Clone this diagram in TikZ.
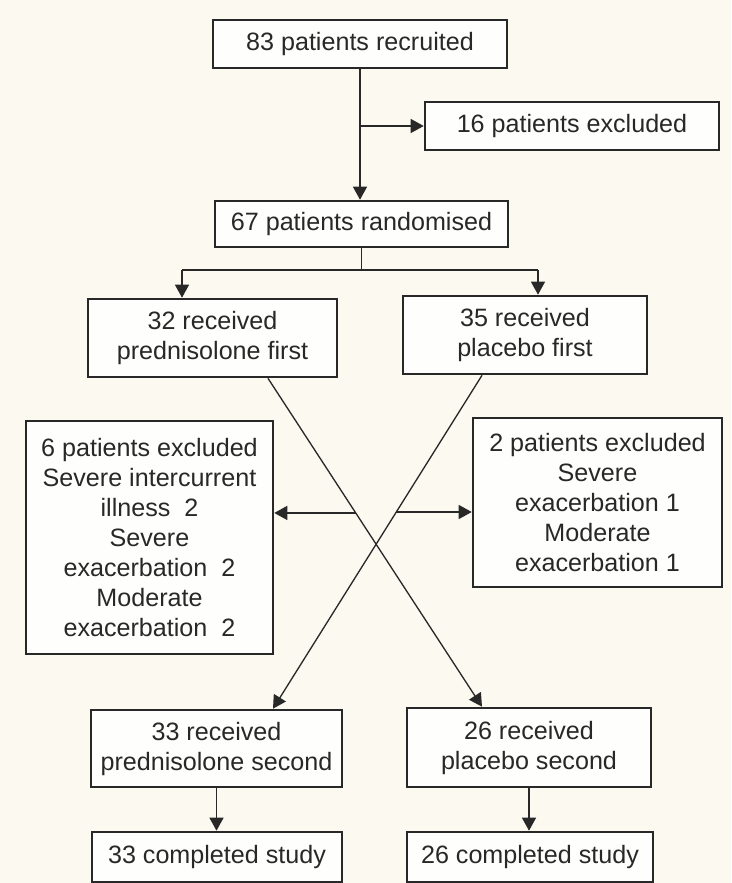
\documentclass[tikz,border=0pt]{standalone}
\usepackage{fontspec}
\setmainfont{Liberation Sans}
\usepackage{tikz}
\usetikzlibrary{arrows.meta}

\begin{document}
\begin{tikzpicture}[x=0.02cm,y=-0.02cm,
  font=\fontsize{14.3}{17.07}\selectfont,
  box/.style={draw=ink,fill=boxfill,line width=1.5pt,inner sep=0pt,align=center,text=ink},
  link/.style={draw=ink,line width=0.75pt},
  arr/.style={link,-{Triangle[length=0.26cm,width=0.28cm]}}]
% Define colors
\definecolor{paper}{RGB}{251,249,240}
\definecolor{ink}{RGB}{40,40,40}
\definecolor{boxfill}{RGB}{254,254,252}

% Draw page
\fill[paper] (0,0) rectangle (731,883);
\useasboundingbox (0,0) rectangle (731,883);

% Draw boxes
\node[box,minimum width=5.88cm,minimum height=0.96cm] (rec) at (360,44) {83 patients recruited};
\node[box,minimum width=5.88cm,minimum height=0.96cm] (excl) at (572,126) {16 patients excluded};
\node[box,minimum width=5.86cm,minimum height=0.92cm] (rand) at (361.5,224) {67 patients randomised};
\node[box,minimum width=4.98cm,minimum height=1.56cm] (predA) at (212.5,338) {32 received\\prednisolone first};
\node[box,minimum width=4.88cm,minimum height=1.56cm] (placA) at (525,335) {35 received\\placebo first};
\node[box,minimum width=4.94cm,minimum height=4.66cm] (exL) at (149.5,537.5) {6 patients excluded\\Severe intercurrent\\illness\ \ 2\\Severe\\exacerbation\ \ 2\\Moderate\\exacerbation\ \ 2};
\node[box,minimum width=4.98cm,minimum height=3.38cm] (exR) at (597.5,502.5) {2 patients excluded\\Severe\\exacerbation 1\\Moderate\\exacerbation 1};
\node[box,minimum width=5.02cm,minimum height=1.54cm] (predB) at (216.5,748.5) {33 received\\prednisolone second};
\node[box,minimum width=4.88cm,minimum height=1.58cm] (placB) at (529,747.5) {26 received\\placebo second};
\node[box,minimum width=5.0cm,minimum height=1.0cm] (doneL) at (217,857) {33 completed study};
\node[box,minimum width=4.92cm,minimum height=1.0cm] (doneR) at (530,857) {26 completed study};

% Draw recruitment arrows
\coordinate (br) at (rec.south |- excl.west);
\draw[arr] (rec.south) -- (rec.south |- rand.north);
\draw[arr] (br) -- (excl);

% Draw randomisation split
\coordinate (spL) at (182,270);
\coordinate (spR) at (538,270);
\draw[link] (rand.south) -- (rand.south |- spL);
\draw[link] (spL) -- (spR);
\draw[arr] (spL) -- (spL |- predA.north);
\draw[arr] (spR) -- (spR |- placA.north);

% Draw crossover lines
\draw[arr] ([xshift=1.11cm]predA.south) -- coordinate[pos=0.41] (xa) ([xshift=-0.94cm]placB.north);
\draw[arr] ([xshift=-0.86cm]placA.south) -- coordinate[pos=0.41] (xb) ([xshift=1.13cm]predB.north);
\draw[arr] (xa) -- (xa -| exL.east);
\draw[arr] (xb) -- (xb -| exR.west);

% Draw completion arrows
\draw[arr] (predB.south) -- (predB.south |- doneL.north);
\draw[arr] (placB.south) -- (placB.south |- doneR.north);
\end{tikzpicture}
\end{document}
